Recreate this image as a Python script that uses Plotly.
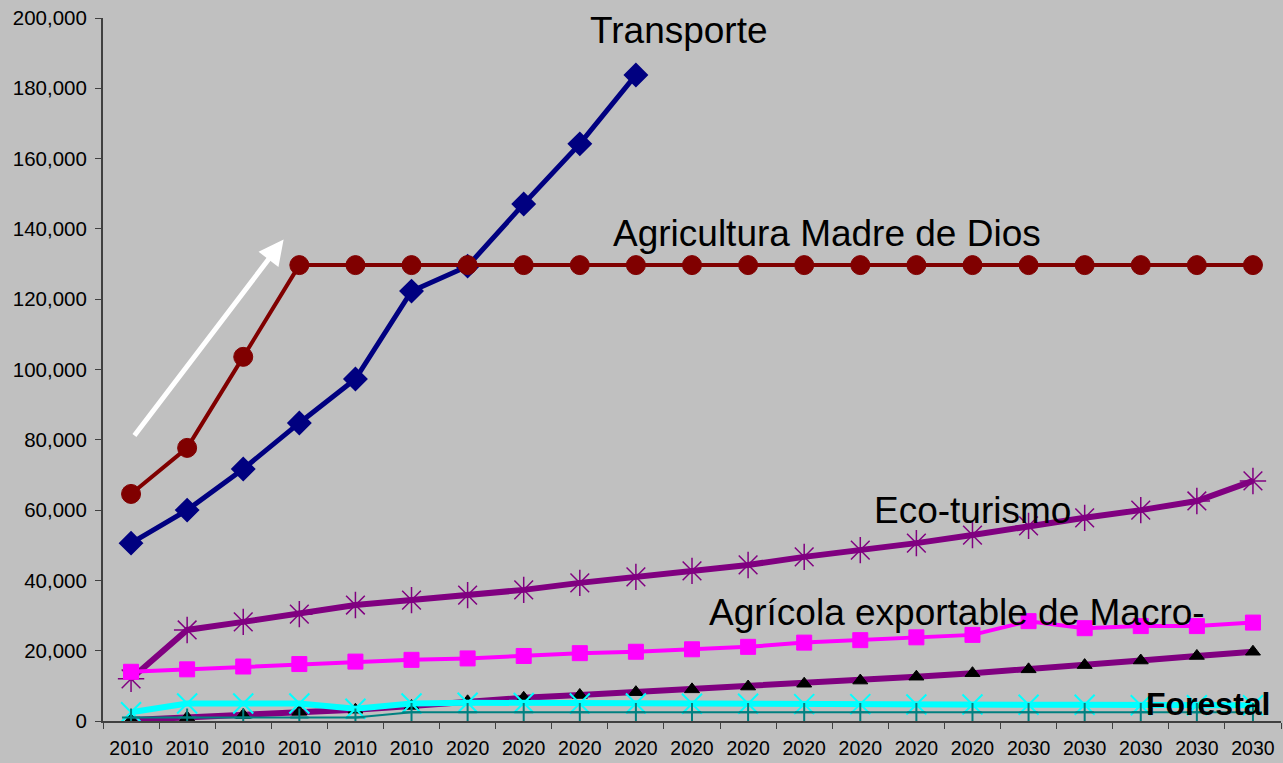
import plotly.graph_objects as go

# Category labels along the horizontal axis (one per period step)
years = ["2010"] * 6 + ["2020"] * 10 + ["2030"] * 5
idx = list(range(len(years)))

transporte = [50600, 60000, 71700, 84800, 97300, 122300, 129400, 147100, 164200, 183800]
agricultura_mdd = [64600, 77700, 103600] + [129700] * 18
eco_turismo = [12000, 25900, 28200, 30400, 33000, 34400, 35800, 37300, 39300, 41000,
               42700, 44400, 46700, 48600, 50600, 52900, 55500, 57800, 60000, 62600, 68300]
agricola_export = [14000, 14700, 15500, 16200, 16900, 17400, 17800, 18500, 19300, 19700,
                   20400, 21100, 22300, 23000, 23800, 24500, 28400, 26400, 27000, 27000, 28000]
otros_triangulo = [300, 1000, 1700, 2600, 3200, 4300, 5600, 6600, 7400, 8200,
                   9000, 9800, 10600, 11500, 12600, 13600, 14700, 15900, 17200, 18500, 19700]
forestal = [2500, 5000, 5000, 5000, 3500, 5000, 5200, 5100, 5000, 5000,
            4900, 4900, 4800, 4800, 4700, 4700, 4600, 4600, 4500, 4500, 4500]
otros_cruz = [1000, 1000, 1000, 1000, 1000, 2500, 2500, 2500, 2500, 2500,
              2500, 2500, 2500, 2500, 2500, 2500, 2500, 2500, 2500, 2500, 2500]

# (values, name, line colour, line width, marker symbol, marker size, marker colour, marker outline width)
series = [
    (transporte, "Transporte", "#000080", 5, "diamond", 17, "#000080", 2),
    (agricultura_mdd, "Agricultura Madre de Dios", "#800000", 4, "circle", 19, "#800000", 1),
    (eco_turismo, "Eco-turismo", "#800080", 6, "asterisk-open", 22, "#800080", 1.5),
    (agricola_export, "Agrícola exportable de Macro-", "#ff00ff", 4, "square", 15, "#ff00ff", 1),
    (otros_triangulo, "Otros", "#800080", 6, "triangle-up", 13, "#000000", 1),
    (forestal, "Forestal", "#00ffff", 6, "x-thin-open", 20, "#00ffff", 2),
    (otros_cruz, "Otros 2", "#008080", 2, "cross-thin-open", 13, "#008080", 2),
]

fig = go.Figure()
for vals, name, color, lw, sym, msize, mcolor, mlw in series:
    fig.add_trace(go.Scatter(
        x=idx[:len(vals)], y=vals, name=name, mode="lines+markers",
        line=dict(color=color, width=lw),
        marker=dict(symbol=sym, size=msize, color=mcolor,
                    line=dict(color=mcolor, width=mlw)),
        showlegend=False,
    ))

font_lbl = dict(family="Liberation Sans, Arial, sans-serif", size=37, color="#000000")
labels = [
    ("Transporte", 9.77, 196400, font_lbl),
    ("Agricultura Madre de Dios", 12.41, 138600, font_lbl),
    ("Eco-turismo", 15.0, 59800, font_lbl),
    ("Agrícola exportable de Macro-", 14.73, 30800, font_lbl),
    ("<b>Forestal</b>", 19.19, 4700,
     dict(family="Liberation Sans, Arial, sans-serif", size=32, color="#000000")),
]
for text, x, y, f in labels:
    fig.add_annotation(x=x, y=y, text=text, showarrow=False, font=f,
                       xanchor="center", yanchor="middle")

# White trend arrow beside the early growth segment
fig.add_annotation(x=2.72, y=137000, ax=0.04, ay=80800, xref="x", yref="y",
                   axref="x", ayref="y", text="", showarrow=True,
                   arrowhead=2, arrowsize=1.0, arrowwidth=5, arrowcolor="#ffffff")

fig.update_layout(
    width=1283, height=763,
    margin=dict(l=103, r=2, t=18, b=42),
    paper_bgcolor="#c0c0c0", plot_bgcolor="#c0c0c0",
    font=dict(family="Liberation Sans, Arial, sans-serif", size=19, color="#000000"),
)
fig.update_xaxes(
    range=[-0.5, 20.5], tickmode="array", tickvals=idx, ticktext=years,
    ticks="", showgrid=False, zeroline=False,
    showline=True, linecolor="#404040", linewidth=2,
    tickfont=dict(size=19.5), ticklabelstandoff=9,
    minor=dict(ticks="outside", tick0=-0.5, dtick=1, ticklen=6,
               tickcolor="#404040", tickwidth=1, showgrid=False),
)
fig.update_yaxes(
    range=[0, 200000], tickmode="linear", tick0=0, dtick=20000,
    tickformat=",", ticks="outside", ticklen=6, tickcolor="#404040",
    showgrid=False, zeroline=False,
    showline=True, linecolor="#404040", linewidth=2,
    tickfont=dict(size=20.5), ticklabelstandoff=4,
)

fig.write_html("out.html")
